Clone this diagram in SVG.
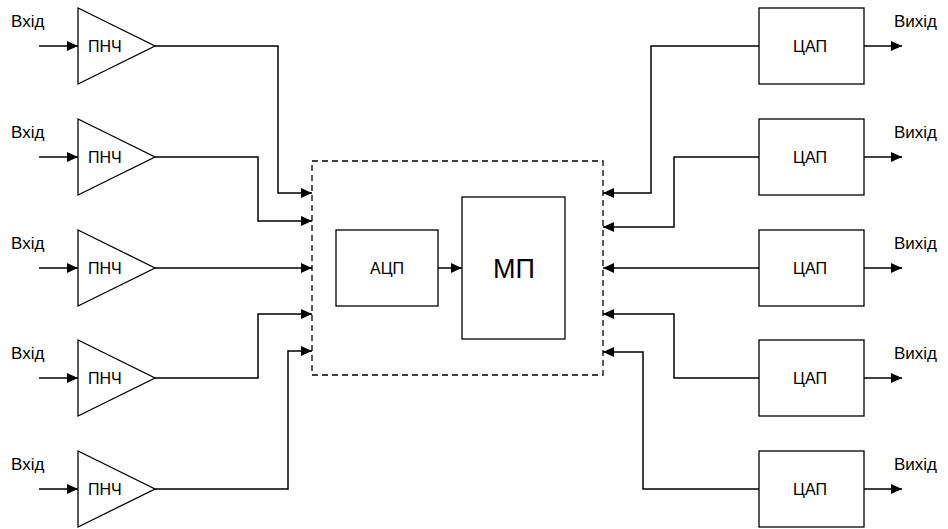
<svg xmlns="http://www.w3.org/2000/svg" width="948" height="529" viewBox="0 0 948 529">
<defs>
<marker id="ah" markerUnits="userSpaceOnUse" markerWidth="11" markerHeight="10" refX="11" refY="5" orient="auto">
<path d="M0,0 L11,5 L0,10 z" fill="#000"/>
</marker>
<style>
.s{fill:#fff;stroke:#000;stroke-width:1.3}
.c{fill:none;stroke:#000;stroke-width:1.5;marker-end:url(#ah)}
.t{font-family:"Liberation Sans",Arial,sans-serif;font-size:16px;fill:#000}
.l{font-size:17px}
.m{text-anchor:middle}
</style>
</defs>
<rect width="948" height="529" fill="#fff"/>
<g id="connectors">
<path class="c" d="M39,46 H78"/>
<path class="c" d="M39,157 H78"/>
<path class="c" d="M39,268 H78"/>
<path class="c" d="M39,378 H78"/>
<path class="c" d="M39,489 H78"/>
<path class="c" d="M155,46 H278 V193 H312"/>
<path class="c" d="M155,157 H258 V221 H312"/>
<path class="c" d="M155,268 H312"/>
<path class="c" d="M155,378 H258 V314 H312"/>
<path class="c" d="M155,489 H288 V351 H312"/>
<path class="c" d="M438,268 H462"/>
<path class="c" d="M759,46 H651 V193 H603"/>
<path class="c" d="M759,157 H674 V227 H603"/>
<path class="c" d="M759,268 H603"/>
<path class="c" d="M759,378 H674 V314 H603"/>
<path class="c" d="M759,489 H643 V352 H603"/>
<path class="c" d="M864,46 H902"/>
<path class="c" d="M864,157 H902"/>
<path class="c" d="M864,268 H902"/>
<path class="c" d="M864,378 H902"/>
<path class="c" d="M864,489 H902"/>
</g>
<g id="mcu">
<rect x="312" y="161" width="291" height="214" fill="none" stroke="#000" stroke-width="1.3" stroke-dasharray="6,4"/>
</g>
<g id="adc">
<rect class="s" x="336" y="230" width="102" height="76"/>
<text class="t m" x="387" y="274">АЦП</text>
</g>
<g id="mp">
<rect class="s" x="462" y="197" width="103" height="142"/>
<text class="t m" x="514" y="278" style="font-size:27px">МП</text>
</g>
<g id="lpf1"><polygon class="s" points="78,8 78,84 155,46"/><text class="t" x="88" y="52">ПНЧ</text><text class="t l" x="11" y="27">Вхід</text></g>
<g id="lpf2"><polygon class="s" points="78,119 78,195 155,157"/><text class="t" x="88" y="163">ПНЧ</text><text class="t l" x="11" y="138">Вхід</text></g>
<g id="lpf3"><polygon class="s" points="78,230 78,306 155,268"/><text class="t" x="88" y="274">ПНЧ</text><text class="t l" x="11" y="249">Вхід</text></g>
<g id="lpf4"><polygon class="s" points="78,340 78,416 155,378"/><text class="t" x="88" y="384">ПНЧ</text><text class="t l" x="11" y="359">Вхід</text></g>
<g id="lpf5"><polygon class="s" points="78,451 78,527 155,489"/><text class="t" x="88" y="495">ПНЧ</text><text class="t l" x="11" y="470">Вхід</text></g>
<g id="dac1"><rect class="s" x="759" y="8" width="105" height="76"/><text class="t m" x="810" y="52">ЦАП</text><text class="t l" x="894" y="27">Вихід</text></g>
<g id="dac2"><rect class="s" x="759" y="119" width="105" height="76"/><text class="t m" x="810" y="163">ЦАП</text><text class="t l" x="894" y="138">Вихід</text></g>
<g id="dac3"><rect class="s" x="759" y="230" width="105" height="76"/><text class="t m" x="810" y="274">ЦАП</text><text class="t l" x="894" y="249">Вихід</text></g>
<g id="dac4"><rect class="s" x="759" y="340" width="105" height="76"/><text class="t m" x="810" y="384">ЦАП</text><text class="t l" x="894" y="359">Вихід</text></g>
<g id="dac5"><rect class="s" x="759" y="451" width="105" height="76"/><text class="t m" x="810" y="495">ЦАП</text><text class="t l" x="894" y="470">Вихід</text></g>
</svg>
